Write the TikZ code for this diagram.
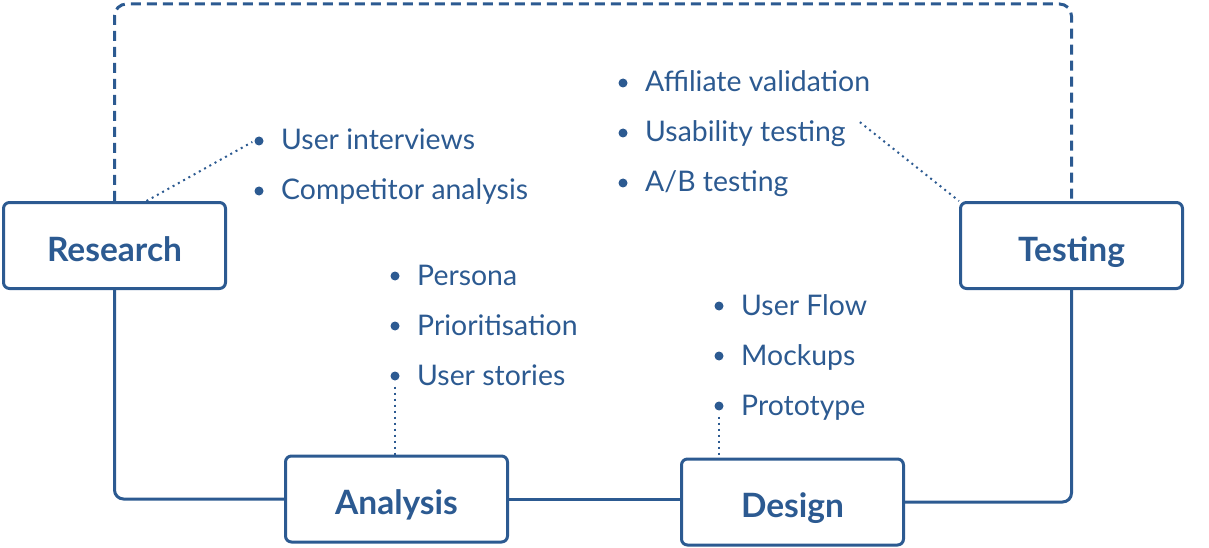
\documentclass[tikz,border=0pt]{standalone}
\usepackage{fontspec}
\setmainfont{Lato}
\usetikzlibrary{calc}
\definecolor{ink}{HTML}{2C5A91}
\begin{document}
\begin{tikzpicture}[x=1pt,y=-1pt,
  box/.style={draw=ink, line width=3pt, rounded corners=6pt, minimum width=222pt, minimum height=86pt, inner sep=0pt, text=ink, text height=31pt, text depth=0pt, font=\fontsize{33.5}{38}\selectfont\bfseries},
  item/.style={anchor=base west, inner sep=0pt, text=ink, font=\fontsize{28.4}{32}\selectfont},
  bul/.style={circle, fill=ink, minimum size=9pt, inner sep=0pt},
  link/.style={draw=ink, line width=3pt, rounded corners=9pt},
  loopline/.style={draw=ink, line width=3pt, dash pattern=on 10pt off 6pt, rounded corners=12pt},
  hint/.style={draw=ink, line width=2pt, dash pattern=on 2pt off 4pt}]
\useasboundingbox (0,0) rectangle (1209,548);

% boxes
\node[box] (research) at (114.5,245.5) {Research};
\node[box] (testing) at (1071.5,245.5) {Testing};
\node[box] (analysis) at (396.5,499) {Analysis};
\node[box] (design) at (792.5,502) {Design};

% research items
\node[bul] (rb1) at (259,141) {};
\node[bul] (rb2) at (259,191) {};
\node[item] (rt1) at (281,150) {User interviews};
\node[item] (rt2) at (281,200) {Competitor analysis};

% testing items
\node[bul] (tb1) at (623,83) {};
\node[bul] (tb2) at (623,133) {};
\node[bul] (tb3) at (623,183) {};
\node[item] (tt1) at (645,92) {Affiliate validation};
\node[item] (tt2) at (645,142) {Usability testing};
\node[item] (tt3) at (645,192) {A/B testing};

% analysis items
\node[bul] (ab1) at (395,276) {};
\node[bul] (ab2) at (395,326) {};
\node[bul] (ab3) at (395,376) {};
\node[item] (at1) at (417,285) {Persona};
\node[item] (at2) at (417,335) {Prioritisation};
\node[item] (at3) at (417,385) {User stories};

% design items
\node[bul] (db1) at (719,306) {};
\node[bul] (db2) at (719,356) {};
\node[bul] (db3) at (719,406) {};
\node[item] (dt1) at (741,315) {User Flow};
\node[item] (dt2) at (741,365) {Mockups};
\node[item] (dt3) at (741,415) {Prototype};

% main connectors
\draw[link] (research.south) |- (analysis.west);
\draw[link] (analysis.east) -- (analysis.east -| design.west);
\draw[link] (design.east) -| (testing.south);

% dashed loop
\coordinate (toprow) at (0,4);
\draw[loopline] (research.north) |- (toprow -| testing.north) -- (testing.north);

% dotted hints
\draw[hint] ($(research.north)+(32,0)$) -- ($(rb1.west)+(-2,1)$);
\draw[hint] ($(tt2.east)+(14,-12)$) -- (testing.north west);
\draw[hint] ($(ab3.south)+(0,6)$) -- (analysis.north -| ab3);
\draw[hint] ($(db3.south)+(0,6)$) -- (design.north -| db3);
\end{tikzpicture}
\end{document}
